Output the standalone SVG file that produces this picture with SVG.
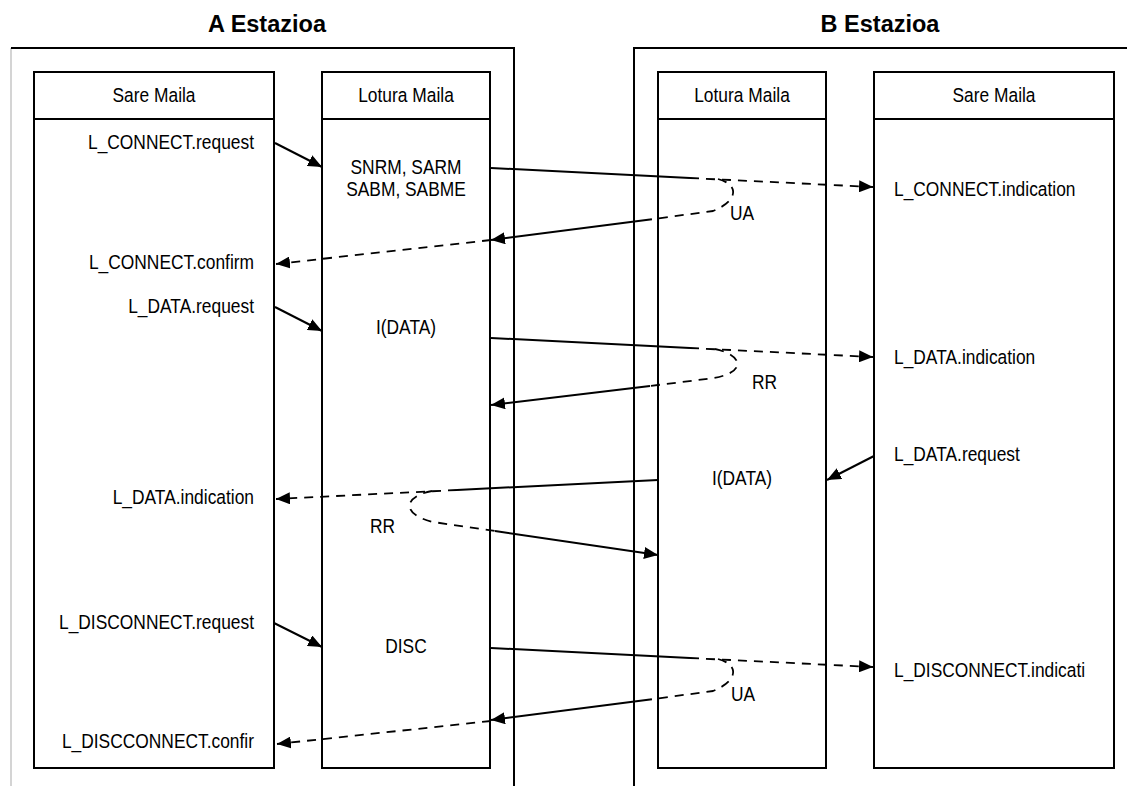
<svg xmlns="http://www.w3.org/2000/svg" width="1127" height="786" viewBox="0 0 1127 786">
  <style>
    .frame { fill: none; stroke: #000; stroke-width: 2; }
    .side { fill: none; stroke: #d4d4d4; stroke-width: 2; }
    .box { fill: #fff; stroke: #000; stroke-width: 2; }
    .title { font-family: "Liberation Sans", Arial, sans-serif; font-size: 23.5px; font-weight: bold; fill: #000; text-anchor: middle; }
    /* narrow sans labels: drawn larger and squeezed horizontally */
    .lbl { font-family: "Liberation Sans", Arial, sans-serif; font-size: 19.3px; fill: #000; }
    .mid { text-anchor: middle; }
    .end { text-anchor: end; }
    .solid { fill: none; stroke: #000; stroke-width: 2; }
    .dash { fill: none; stroke: #000; stroke-width: 1.8; stroke-dasharray: 9 7; }
  </style>
  <defs>
    <marker id="ah" markerUnits="userSpaceOnUse" markerWidth="14" markerHeight="12" refX="14" refY="6" orient="auto">
      <path d="M0,0 L14,6 L0,12 Z" fill="#000" stroke="none"/>
    </marker>
  </defs>
  <rect width="1127" height="786" fill="#fff"/>

  <!-- Station A frame -->
  <g id="station-a">
    <text class="title" x="267" y="32">A Estazioa</text>
    <line class="side" x1="11" y1="48" x2="11" y2="786"/>
    <polyline class="frame" points="11,48 514,48 514,786"/>
  </g>

  <!-- Station B frame -->
  <g id="station-b">
    <text class="title" x="880" y="32">B Estazioa</text>
    <polyline class="frame" points="1127,48 634,48 634,786"/>
  </g>

  <!-- A: upper layer -->
  <g id="sare-a">
    <rect class="box" x="34" y="72" width="240" height="696"/>
    <line class="frame" x1="34" y1="119" x2="274" y2="119"/>
    <text class="lbl mid" transform="translate(154 102) scale(.9 1)">Sare Maila</text>
    <text class="lbl end" transform="translate(254 149) scale(.9 1)">L_CONNECT.request</text>
    <text class="lbl end" transform="translate(254 269) scale(.9 1)">L_CONNECT.confirm</text>
    <text class="lbl end" transform="translate(254 313) scale(.9 1)">L_DATA.request</text>
    <text class="lbl end" transform="translate(254 504) scale(.9 1)">L_DATA.indication</text>
    <text class="lbl end" transform="translate(254 629) scale(.9 1)">L_DISCONNECT.request</text>
    <text class="lbl end" transform="translate(254 748) scale(.9 1)">L_DISCCONNECT.confir</text>
  </g>

  <!-- A: link layer -->
  <g id="lotura-a">
    <rect class="box" x="322" y="72" width="168" height="696"/>
    <line class="frame" x1="322" y1="119" x2="490" y2="119"/>
    <text class="lbl mid" transform="translate(406 102) scale(.9 1)">Lotura Maila</text>
    <text class="lbl mid" transform="translate(406 174) scale(.9 1)">SNRM, SARM</text>
    <text class="lbl mid" transform="translate(406 196) scale(.9 1)">SABM, SABME</text>
    <text class="lbl mid" transform="translate(406 334) scale(.9 1)">I(DATA)</text>
    <text class="lbl mid" transform="translate(406 653) scale(.9 1)">DISC</text>
  </g>

  <!-- B: link layer -->
  <g id="lotura-b">
    <rect class="box" x="658" y="72" width="168" height="696"/>
    <line class="frame" x1="658" y1="119" x2="826" y2="119"/>
    <text class="lbl mid" transform="translate(742 102) scale(.9 1)">Lotura Maila</text>
    <text class="lbl mid" transform="translate(742 485) scale(.9 1)">I(DATA)</text>
  </g>

  <!-- B: upper layer -->
  <g id="sare-b">
    <rect class="box" x="874" y="72" width="240" height="696"/>
    <line class="frame" x1="874" y1="119" x2="1114" y2="119"/>
    <text class="lbl mid" transform="translate(994 102) scale(.9 1)">Sare Maila</text>
    <text class="lbl" transform="translate(894 196) scale(.9 1)">L_CONNECT.indication</text>
    <text class="lbl" transform="translate(894 364) scale(.9 1)">L_DATA.indication</text>
    <text class="lbl" transform="translate(894 461) scale(.9 1)">L_DATA.request</text>
    <text class="lbl" transform="translate(894 677) scale(.9 1)">L_DISCONNECT.indicati</text>
  </g>

  <g id="connectors">
    <!-- connection set-up -->
    <line class="solid" x1="275" y1="143" x2="322" y2="167" marker-end="url(#ah)"/>
    <line class="solid" x1="491" y1="168" x2="690" y2="178"/>
    <line class="dash" x1="690" y1="178" x2="873" y2="187" marker-end="url(#ah)"/>
    <path class="dash" d="M718,179 C738,184 740,200 713,211 L650,219.5"/>
    <line class="solid" x1="650" y1="219.5" x2="491" y2="240" marker-end="url(#ah)"/>
    <line class="dash" x1="491" y1="240" x2="276" y2="264" marker-end="url(#ah)"/>
    <text class="lbl" transform="translate(730 220) scale(.9 1)">UA</text>

    <!-- data from A -->
    <line class="solid" x1="275" y1="307" x2="322" y2="331" marker-end="url(#ah)"/>
    <line class="solid" x1="491" y1="338" x2="690" y2="348"/>
    <line class="dash" x1="690" y1="348" x2="873" y2="357" marker-end="url(#ah)"/>
    <path class="dash" d="M715,349 C743,355 747,372 714,378 L650,386"/>
    <line class="solid" x1="650" y1="386" x2="491" y2="405" marker-end="url(#ah)"/>
    <text class="lbl" transform="translate(752 389) scale(.9 1)">RR</text>

    <!-- data from B -->
    <line class="solid" x1="874" y1="456" x2="827" y2="480" marker-end="url(#ah)"/>
    <line class="solid" x1="658" y1="480" x2="457" y2="490"/>
    <line class="dash" x1="457" y1="490" x2="276" y2="499" marker-end="url(#ah)"/>
    <path class="dash" d="M432,491 C404,496 400,514 433,522 L495,531"/>
    <line class="solid" x1="495" y1="531" x2="658" y2="555" marker-end="url(#ah)"/>
    <text class="lbl" transform="translate(370 533) scale(.9 1)">RR</text>

    <!-- disconnection -->
    <line class="solid" x1="274" y1="623" x2="322" y2="647" marker-end="url(#ah)"/>
    <line class="solid" x1="491" y1="648" x2="690" y2="658"/>
    <line class="dash" x1="690" y1="658" x2="873" y2="667" marker-end="url(#ah)"/>
    <path class="dash" d="M718,659 C738,664 740,680 713,691 L650,699.5"/>
    <line class="solid" x1="650" y1="699.5" x2="491" y2="720" marker-end="url(#ah)"/>
    <line class="dash" x1="491" y1="721" x2="277" y2="744" marker-end="url(#ah)"/>
    <text class="lbl" transform="translate(731 701) scale(.9 1)">UA</text>
  </g>
</svg>
